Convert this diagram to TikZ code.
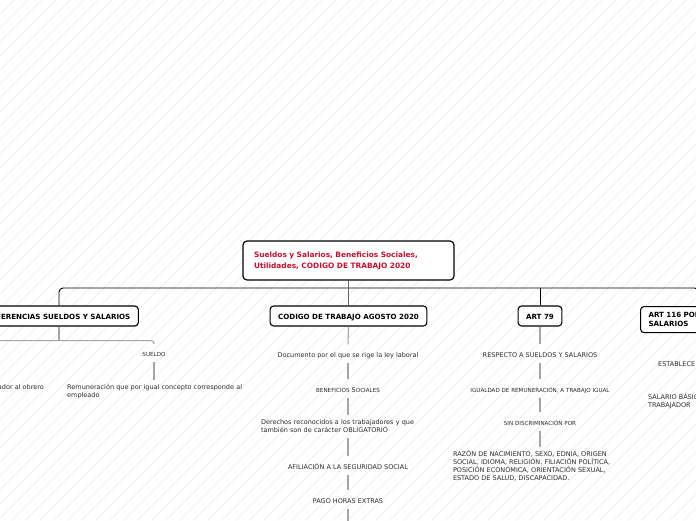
\documentclass[tikz,border=0pt]{standalone}
\usepackage{fontspec}
\setmainfont{DejaVu Sans}
\definecolor{rootred}{RGB}{200,16,46}
\definecolor{txt}{RGB}{45,45,45}
\definecolor{linkgray}{RGB}{165,165,165}
\definecolor{trunkgray}{RGB}{100,100,100}
\definecolor{hatchgray}{RGB}{240,240,240}
\newcommand\topst{\rule{0pt}{6.5pt}}
\newcommand\botst{\rule[-2pt]{0pt}{2pt}}
\newcommand\btopst{\rule{0pt}{7.1pt}}
\newcommand\smc[1]{{\fontsize{5.6}{8}\selectfont #1}}
\begin{document}
\begin{tikzpicture}[x=1pt,y=-1pt,
  box/.style={draw=black, line width=1.1pt, rounded corners=3.5pt, fill=white,
    font=\fontsize{7.1}{9}\selectfont\bfseries, inner xsep=8pt, inner ysep=0pt,
    minimum height=20pt, text height=0.729em, text depth=0pt},
  rootbox/.style={draw=black, line width=1.2pt, rounded corners=4pt, fill=white,
    font=\fontsize{7.4}{11}\selectfont\bfseries, text=rootred, align=left,
    text width=189pt, inner xsep=11pt, inner ysep=0pt, minimum height=39pt},
  twobox/.style={draw=black, line width=1.1pt, rounded corners=3.5pt, fill=white,
    font=\fontsize{7.1}{9}\selectfont\bfseries, align=left, text width=100pt,
    inner xsep=8pt, inner ysep=4pt},
  lbl/.style={font=\fontsize{6.5}{8}\selectfont, text=txt, inner xsep=1pt, inner ysep=0pt,
    minimum height=18pt, text height=0.729em, text depth=0pt},
  sc/.style={lbl, font=\fontsize{5.6}{8}\selectfont},
  multi/.style={font=\fontsize{6.5}{8}\selectfont, text=txt, align=left,
    text width=174pt, inner xsep=0pt, inner ysep=3pt, anchor=north},
  link/.style={draw=linkgray, line width=1.1pt},
  trunk/.style={draw=trunkgray, line width=1.5pt},
  hline/.style={draw=black, line width=0.9pt},
  hatchline/.style={draw=hatchgray, line width=0.8pt}
]
\useasboundingbox (0,0) rectangle (696,520);
\fill[white] (0,0) rectangle (696,520);
\foreach \i in {-520,-506,...,700} \draw[hatchline] (\i,520) -- ++(520,-520);

% root and first level
\node[rootbox] (root) at (348.5,260.5) {Sueldos y Salarios, Beneficios Sociales,\\Utilidades, CODIGO DE TRABAJO 2020};
\node[box] (dif) at (59,316) {DIFERENCIAS SUELDOS Y SALARIOS};
\node[box] (cod) at (348.5,316) {CODIGO DE TRABAJO AGOSTO 2020};
\node[box] (art79) at (540,316) {ART 79};
\node[twobox, anchor=north west] (a116) at (640,306) {\btopst ART 116 POR\\SALARIOS\botst};

\coordinate (hl) at (0,288);
\draw[hline, rounded corners=4pt] (dif.north) |- (a116.north |- hl) -- (a116.north);
\draw[hline, rounded corners=3pt] (art79.north) -- (art79.north |- hl);
\draw[trunk] (root.south) -- (cod.north);

% DIFERENCIAS branch
\coordinate (sal) at (-40,353);
\node[sc] (sueldo) at (154,353) {SUELDO};
\node[lbl, anchor=east] (obrero) at (45,385.5) {Retribución que paga el empleador al obrero};
\node[multi, anchor=north west, text width=190pt] (rem) at (67,379.5) {\topst Remuneración que por igual concepto corresponde al\\empleado};
\draw[link] (dif.south) -- ++(0,14) coordinate (split);
\draw[link, rounded corners=3pt] (sal |- split) -- (split) -| (sueldo.north);
\draw[link] (sueldo.south) -- (sueldo.south |- rem.north);

% CODIGO column
\node[lbl] (doc) at (348,353.5) {Documento por el que se rige la ley laboral};
\node[lbl] (ben) at (348,388.5) {\smc{BENEFICIOS} S\smc{OCIALES}};
\node[multi] (der) at (348,414.8) {\topst Derechos reconocidos a los trabajadores y que\\también son de carácter OBLIGATORIO\botst};
\node[lbl] (afil) at (348,465.5) {AFILIACIÓN A LA SEGURIDAD SOCIAL};
\node[lbl] (pago) at (348,499.5) {PAGO HORAS EXTRAS};
\coordinate (codend) at (348,530);
\draw[link] (cod.south) -- (doc.north);
\draw[link] (doc.south) -- (ben.north);
\draw[link] (ben.south) -- (der.north);
\draw[link] (der.south) -- (afil.north);
\draw[link] (afil.south) -- (pago.north);
\draw[link] (pago.south) -- (codend);

% ART 79 column
\node[lbl] (resp) at (540,353.5) {RESPECTO A SUELDOS Y SALARIOS};
\node[sc] (igual) at (540,388.5) {IGUALDAD DE REMUNERACIÓN, A TRABAJO IGUAL};
\node[sc] (sin) at (540,421.5) {SIN DISCRIMINACIÓN POR};
\node[multi] (razon) at (540,446.8) {\topst RAZÓN DE NACIMIENTO, SEXO, EDNIA, ORIGEN\\SOCIAL, IDIOMA, RELIGIÓN, FILIACIÓN POLÍTICA,\\POSICIÓN ECONÓMICA, ORIENTACIÓN SEXUAL,\\ESTADO DE SALUD, DISCAPACIDAD.};
\draw[link] (art79.south) -- (resp.north);
\draw[link] (resp.south) -- (igual.north);
\draw[link] (igual.south) -- (sin.north);
\draw[link] (sin.south) -- (razon.north);

% ART 116 column
\node[lbl, anchor=west] (estab) at (657,362.5) {ESTABLECE};
\node[multi, anchor=north west] (salbas) at (648,390.2) {\topst SALARIO BÁSICO\\TRABAJADOR};
\end{tikzpicture}
\end{document}
